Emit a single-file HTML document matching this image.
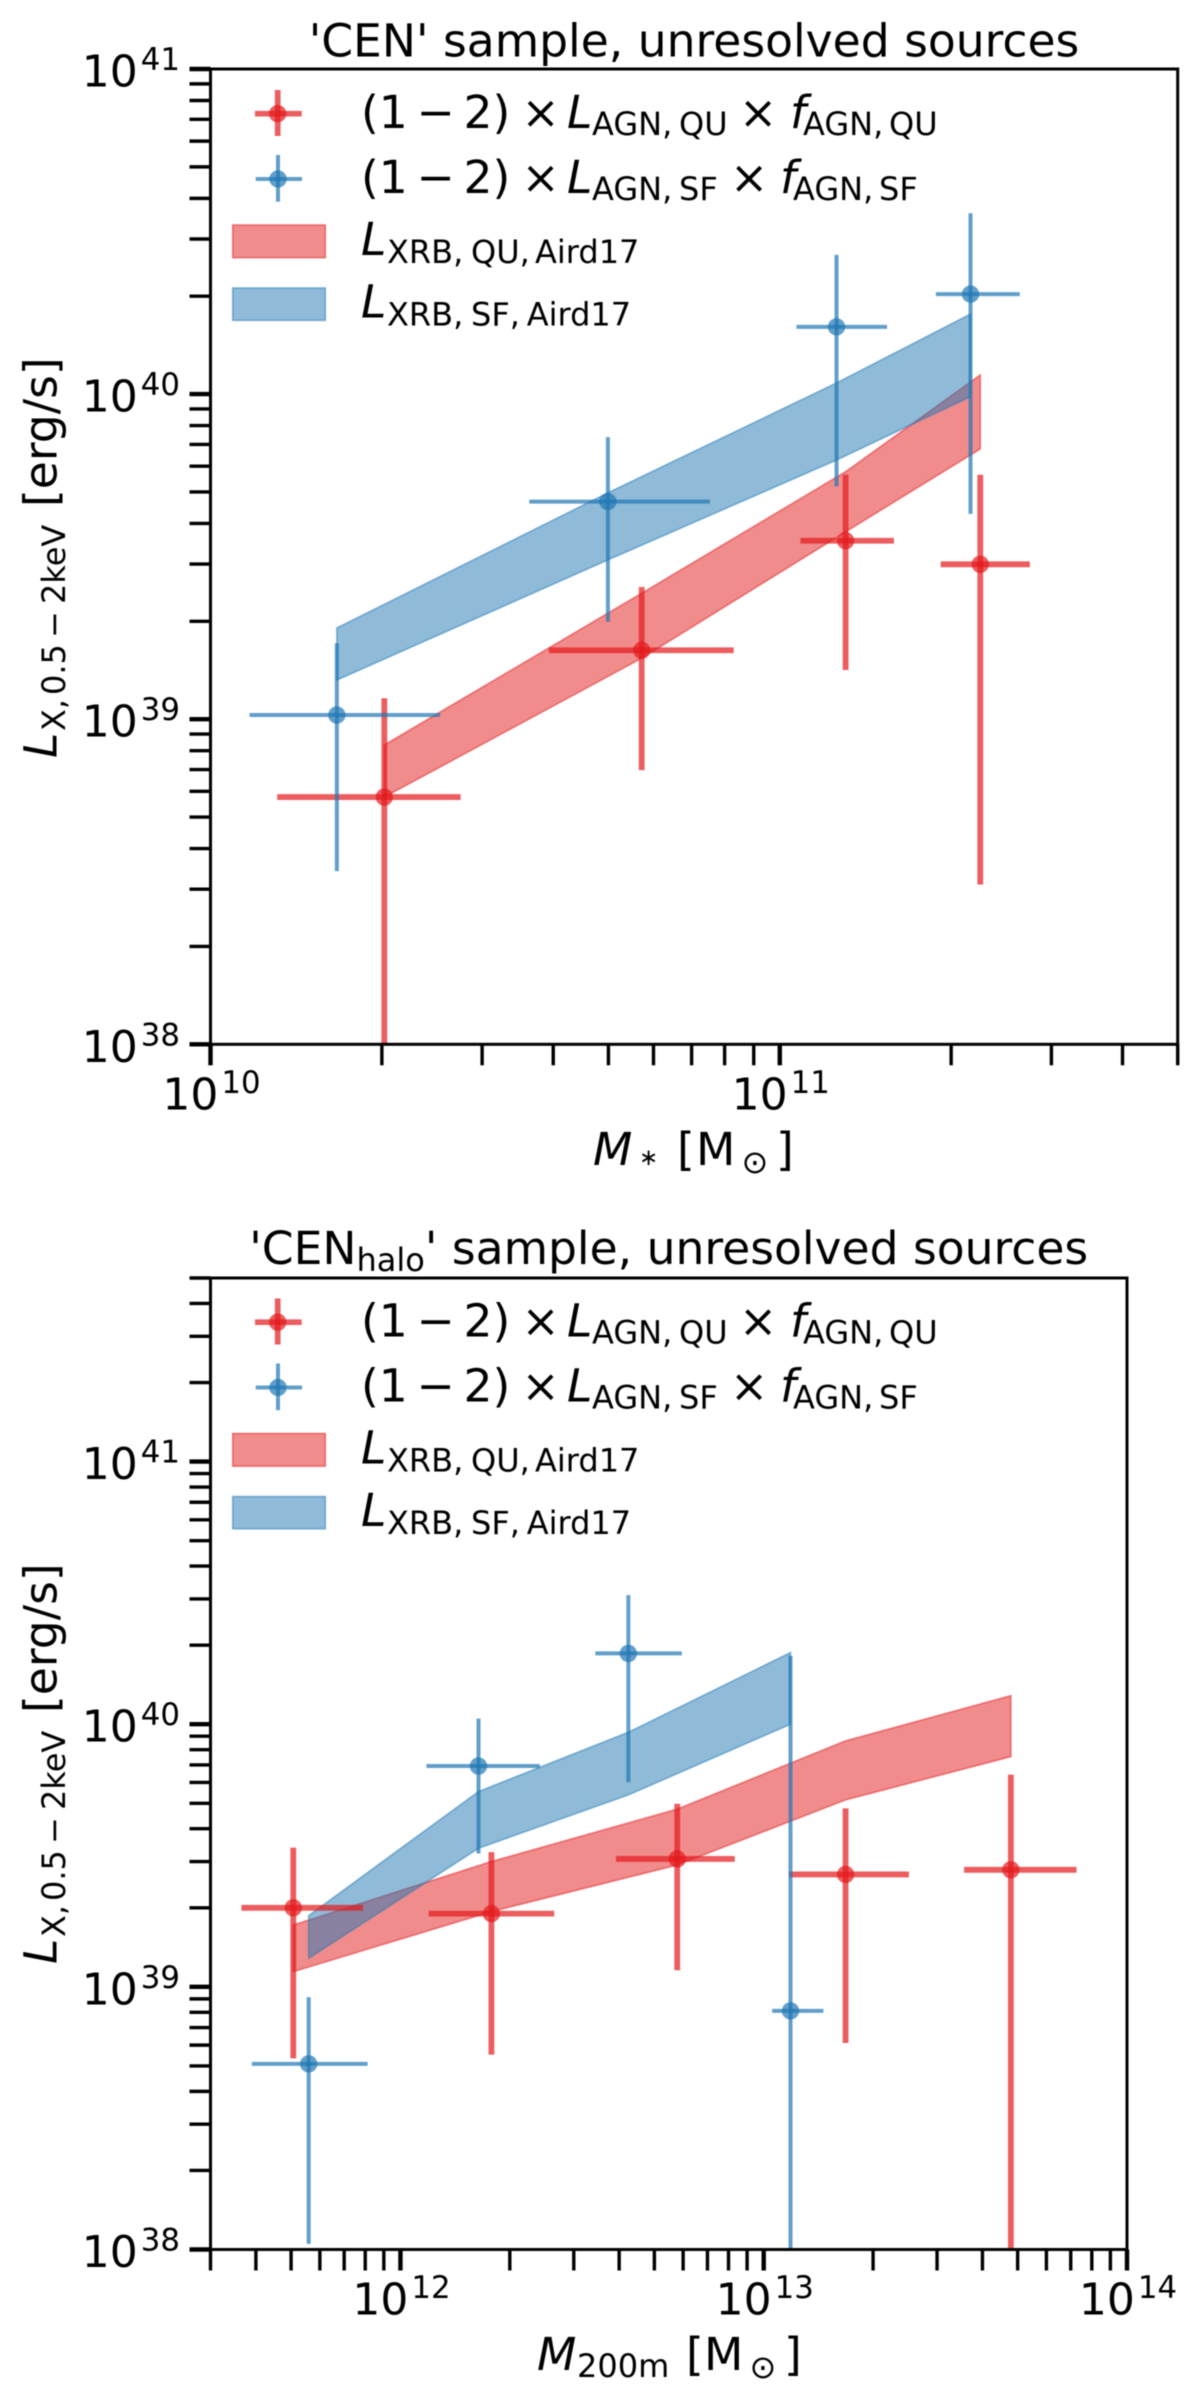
<!DOCTYPE html>
<html lang="en">
<head>
<meta charset="utf-8">
<title>Unresolved X-ray luminosity of CEN samples</title>
<style>
html,body{margin:0;padding:0;background:#fff;width:1200px;height:2405px;overflow:hidden}
svg{display:block;filter:blur(0.45px)}
text{font-family:"DejaVu Sans","Liberation Sans",sans-serif;fill:#000}
.m{font-size:45.6px}
.s{font-size:32px}
.t{font-size:44px}
.u{font-size:30.8px}
.a{font-size:23px}
.i{font-style:italic}
</style>
</head>
<body>
<svg id="figure" xmlns="http://www.w3.org/2000/svg" width="1200" height="2405" viewBox="0 0 1200 2405">
<defs>
<clipPath id="clip-cen"><rect x="210.5" y="69" width="967.2" height="975.3"/></clipPath>
<clipPath id="clip-halo"><rect x="210.5" y="1278" width="916.5" height="971.5"/></clipPath>
</defs>
<rect x="0" y="0" width="1200" height="2405" fill="#fff"/>

<g id="panel-cen"></g>
<g id="panel-halo"></g>

<!-- Panel 1 text -->
<text class="m" x="694" y="56.7" text-anchor="middle">'CEN' sample, unresolved sources</text>
<g>
<text class="m i" x="593" y="1165">M</text>
<text class="a" x="639" y="1165">∗</text>
<text class="m" x="677" y="1165">[</text>
<text class="m" x="696" y="1165">M</text>
<text class="s" x="741.5" y="1173">⊙</text>
<text class="m" x="776" y="1165">]</text>
</g>
<g>
<text class="m i" transform="translate(56.7,758) rotate(-90)">L</text>
<text class="s" transform="translate(65,731) rotate(-90)">X,</text>
<text class="s" transform="translate(65,695) rotate(-90)">0.5</text>
<text class="s" transform="translate(65,638) rotate(-90)">−</text>
<text class="s" transform="translate(65,604) rotate(-90)">2keV</text>
<text class="m" transform="translate(56.7,507) rotate(-90)">[erg/s]</text>
</g>

<!-- Panel 2 text -->
<text class="m" x="668.7" y="1264" text-anchor="middle">'CEN<tspan class="s" dy="7">halo</tspan><tspan dy="-7">' sample, unresolved sources</tspan></text>
<g>
<text class="m i" x="537" y="2370">M</text>
<text class="s" x="577" y="2377">200m</text>
<text class="m" x="686" y="2370">[</text>
<text class="m" x="704" y="2370">M</text>
<text class="s" x="749.5" y="2378">⊙</text>
<text class="m" x="784" y="2370">]</text>
</g>
<g transform="translate(0,1206)">
<text class="m i" transform="translate(56.7,758) rotate(-90)">L</text>
<text class="s" transform="translate(65,731) rotate(-90)">X,</text>
<text class="s" transform="translate(65,695) rotate(-90)">0.5</text>
<text class="s" transform="translate(65,638) rotate(-90)">−</text>
<text class="s" transform="translate(65,604) rotate(-90)">2keV</text>
<text class="m" transform="translate(56.7,507) rotate(-90)">[erg/s]</text>
</g>

<!-- Legends -->
<g id="legend-cen">
<g>
<line x1="255" x2="301.7" y1="113.7" y2="113.7" stroke="#e41a1c" stroke-width="5.7" opacity=".7"/>
<line x1="277.7" x2="277.7" y1="90" y2="136" stroke="#e41a1c" stroke-width="5.7" opacity=".7"/>
<circle cx="277.7" cy="113.7" r="8.7" fill="#e41a1c" opacity=".7"/>
<text class="m" x="361" y="128">(1</text>
<text class="m" x="416.5" y="128">−</text>
<text class="m" x="463.5" y="128">2)</text>
<text class="m" x="521.5" y="128">×</text>
<text class="m i" x="567" y="128">L</text>
<text class="s" x="592" y="135">AGN,</text>
<text class="s" x="679" y="135">QU</text>
<text class="m" x="739" y="128">×</text>
<text class="m i" x="790" y="128">f</text>
<text class="s" x="803" y="135">AGN,</text>
<text class="s" x="889" y="135">QU</text>
</g>
<g>
<line x1="255.7" x2="302" y1="179" y2="179" stroke="#1f77b4" stroke-width="4" opacity=".7"/>
<line x1="278" x2="278" y1="155" y2="201.7" stroke="#1f77b4" stroke-width="4" opacity=".7"/>
<circle cx="278" cy="179" r="8.7" fill="#1f77b4" opacity=".7"/>
<text class="m" x="361" y="193">(1</text>
<text class="m" x="416.5" y="193">−</text>
<text class="m" x="463.5" y="193">2)</text>
<text class="m" x="521.5" y="193">×</text>
<text class="m i" x="567" y="193">L</text>
<text class="s" x="592" y="200">AGN,</text>
<text class="s" x="679" y="200">SF</text>
<text class="m" x="730" y="193">×</text>
<text class="m i" x="780" y="193">f</text>
<text class="s" x="793" y="200">AGN,</text>
<text class="s" x="879" y="200">SF</text>
</g>
<g>
<rect x="232.7" y="225" width="92.6" height="32.7" fill="#e41a1c" fill-opacity=".5" stroke="#e41a1c" stroke-opacity=".5" stroke-width="1.6"/>
<text class="m i" x="361" y="255">L</text>
<text class="s" x="387" y="263">XRB,</text>
<text class="s" x="471" y="263">QU,</text>
<text class="s" x="535" y="263">Aird17</text>
</g>
<g>
<rect x="232.7" y="288" width="92.6" height="32.3" fill="#1f77b4" fill-opacity=".5" stroke="#1f77b4" stroke-opacity=".5" stroke-width="1.6"/>
<text class="m i" x="361" y="317.7">L</text>
<text class="s" x="387" y="325.7">XRB,</text>
<text class="s" x="471" y="325.7">SF,</text>
<text class="s" x="526.7" y="325.7">Aird17</text>
</g>
</g>
<g id="legend-halo" transform="translate(0,1208.5)">
<g>
<line x1="255" x2="301.7" y1="113.7" y2="113.7" stroke="#e41a1c" stroke-width="5.7" opacity=".7"/>
<line x1="277.7" x2="277.7" y1="90" y2="136" stroke="#e41a1c" stroke-width="5.7" opacity=".7"/>
<circle cx="277.7" cy="113.7" r="8.7" fill="#e41a1c" opacity=".7"/>
<text class="m" x="361" y="128">(1</text>
<text class="m" x="416.5" y="128">−</text>
<text class="m" x="463.5" y="128">2)</text>
<text class="m" x="521.5" y="128">×</text>
<text class="m i" x="567" y="128">L</text>
<text class="s" x="592" y="135">AGN,</text>
<text class="s" x="679" y="135">QU</text>
<text class="m" x="739" y="128">×</text>
<text class="m i" x="790" y="128">f</text>
<text class="s" x="803" y="135">AGN,</text>
<text class="s" x="889" y="135">QU</text>
</g>
<g>
<line x1="255.7" x2="302" y1="179" y2="179" stroke="#1f77b4" stroke-width="4" opacity=".7"/>
<line x1="278" x2="278" y1="155" y2="201.7" stroke="#1f77b4" stroke-width="4" opacity=".7"/>
<circle cx="278" cy="179" r="8.7" fill="#1f77b4" opacity=".7"/>
<text class="m" x="361" y="193">(1</text>
<text class="m" x="416.5" y="193">−</text>
<text class="m" x="463.5" y="193">2)</text>
<text class="m" x="521.5" y="193">×</text>
<text class="m i" x="567" y="193">L</text>
<text class="s" x="592" y="200">AGN,</text>
<text class="s" x="679" y="200">SF</text>
<text class="m" x="730" y="193">×</text>
<text class="m i" x="780" y="193">f</text>
<text class="s" x="793" y="200">AGN,</text>
<text class="s" x="879" y="200">SF</text>
</g>
<g>
<rect x="232.7" y="225" width="92.6" height="32.7" fill="#e41a1c" fill-opacity=".5" stroke="#e41a1c" stroke-opacity=".5" stroke-width="1.6"/>
<text class="m i" x="361" y="255">L</text>
<text class="s" x="387" y="263">XRB,</text>
<text class="s" x="471" y="263">QU,</text>
<text class="s" x="535" y="263">Aird17</text>
</g>
<g>
<rect x="232.7" y="288" width="92.6" height="32.3" fill="#1f77b4" fill-opacity=".5" stroke="#1f77b4" stroke-opacity=".5" stroke-width="1.6"/>
<text class="m i" x="361" y="317.7">L</text>
<text class="s" x="387" y="325.7">XRB,</text>
<text class="s" x="471" y="325.7">SF,</text>
<text class="s" x="526.7" y="325.7">Aird17</text>
</g>
</g>
</svg>
<script>
// ---- Panel 1: 'CEN' sample ----
const cenXTickExponents = [10, 11];
const cenYTickExponents = [38, 39, 40, 41];
const cenQuMass     = [2.02e10, 5.72e10, 1.305e11, 2.25e11];
const cenQuMassLow  = [1.31e10, 3.93e10, 1.087e11, 1.917e11];
const cenQuMassHigh = [2.75e10, 8.30e10, 1.587e11, 2.75e11];
const cenQuLum      = [5.76e38, 1.63e39, 3.54e39, 2.995e39];
const cenQuLumLow   = [5.0e37, 6.97e38, 1.417e39, 3.10e38];
const cenQuLumHigh  = [1.16e39, 2.55e39, 5.65e39, 5.65e39];
const cenSfMass     = [1.667e10, 4.99e10, 1.258e11, 2.163e11];
const cenSfMassLow  = [1.171e10, 3.63e10, 1.07e11, 1.88e11];
const cenSfMassHigh = [2.53e10, 7.54e10, 1.543e11, 2.64e11];
const cenSfLum      = [1.03e39, 4.67e39, 1.61e40, 2.03e40];
const cenSfLumLow   = [3.41e38, 1.994e39, 5.2e39, 4.28e39];
const cenSfLumHigh  = [1.713e39, 7.37e39, 2.68e40, 3.6e40];
const cenQuBandUpper = [8.33e38, 2.44e39, 5.77e39, 1.145e40];
const cenQuBandLower = [5.76e38, 1.54e39, 3.77e39, 6.78e39];
const cenSfBandUpper = [1.908e39, 4.97e39, 1.082e40, 1.763e40];
const cenSfBandLower = [1.32e39, 3.09e39, 6.27e39, 9.82e39];

// ---- Panel 2: 'CEN_halo' sample ----
const haloXTickExponents = [12, 13, 14];
const haloYTickExponents = [38, 39, 40, 41];
const haloQuMass     = [5.07e11, 1.78e12, 5.78e12, 1.68e13, 4.79e13];
const haloQuMassLow  = [3.65e11, 1.196e12, 3.92e12, 1.174e13, 3.56e13];
const haloQuMassHigh = [7.89e11, 2.65e12, 8.32e12, 2.51e13, 7.26e13];
const haloQuLum      = [2.0e39, 1.90e39, 3.07e39, 2.68e39, 2.79e39];
const haloQuLumLow   = [5.34e38, 5.52e38, 1.157e39, 6.11e38, 5.0e37];
const haloQuLumHigh  = [3.39e39, 3.26e39, 4.98e39, 4.78e39, 6.43e39];
const haloSfMass     = [5.59e11, 1.64e12, 4.24e12, 1.185e13];
const haloSfMassLow  = [3.9e11, 1.179e12, 3.44e12, 1.055e13];
const haloSfMassHigh = [8.12e11, 2.42e12, 5.95e12, 1.46e13];
const haloSfLum      = [5.09e38, 6.93e39, 1.86e40, 8.1e38];
const haloSfLumLow   = [1.05e38, 3.22e39, 6.01e39, 5.0e37];
const haloSfLumHigh  = [9.14e38, 1.05e40, 3.1e40, 1.82e40];
const haloQuBandUpper = [1.72e39, 3.0e39, 4.75e39, 8.64e39, 1.285e40];
const haloQuBandLower = [1.143e39, 1.934e39, 2.91e39, 5.15e39, 7.53e39];
const haloSfBandUpper = [1.867e39, 5.54e39, 9.32e39, 1.874e40];
const haloSfBandLower = [1.285e39, 3.37e39, 5.38e39, 1.0e40];

const RED = '#e41a1c';
const BLUE = '#1f77b4';
const SVGNS = 'http://www.w3.org/2000/svg';

function make(parent, tag, attrs) {
  const node = document.createElementNS(SVGNS, tag);
  for (const k in attrs) node.setAttribute(k, attrs[k]);
  parent.appendChild(node);
  return node;
}

function drawBand(parent, clip, sx, sy, xs, upper, lower, color, name) {
  const top = xs.map((x, i) => sx(x).toFixed(2) + ',' + sy(upper[i]).toFixed(2));
  const bottom = xs.map((x, i) => sx(x).toFixed(2) + ',' + sy(lower[i]).toFixed(2)).reverse();
  const band = make(parent, 'polygon', {
    points: top.concat(bottom).join(' '),
    fill: color, 'fill-opacity': 0.5, stroke: color, 'stroke-opacity': 0.5,
    'stroke-width': 1.6, 'clip-path': clip
  });
  
  
}

function drawPoints(parent, clip, sx, sy, xs, xLow, xHigh, ys, yLow, yHigh, color, width, name) {
  xs.forEach((x, i) => {
    const hBar = make(parent, 'line', {
      x1: sx(xLow[i]), x2: sx(xHigh[i]), y1: sy(ys[i]), y2: sy(ys[i]),
      stroke: color, 'stroke-width': width, opacity: 0.7, 'clip-path': clip
    });
    
    
    const vBar = make(parent, 'line', {
      x1: sx(x), x2: sx(x), y1: sy(yLow[i]), y2: sy(yHigh[i]),
      stroke: color, 'stroke-width': width, opacity: 0.7, 'clip-path': clip
    });
    
    
    const dot = make(parent, 'circle', {
      cx: sx(x), cy: sy(ys[i]), r: 8.7, fill: color, opacity: 0.7, 'clip-path': clip
    });
    
    
  });
}

function drawTick(parent, x1, y1, x2, y2, width, name) {
  const tick = make(parent, 'line', { x1: x1, y1: y1, x2: x2, y2: y2, stroke: '#000', 'stroke-width': width });
  
  
}

function drawPowerLabel(parent, x, y, anchor, exponent, name) {
  const label = make(parent, 'text', { x: x, y: y, 'text-anchor': anchor, class: 't' });
  
  
  label.appendChild(document.createTextNode('10'));
  const sup = make(label, 'tspan', { class: 'u', dx: 3, dy: -16.5 });
  sup.textContent = String(exponent);
}

function drawAxes(parent, box, sx, sy, xExp, yExp, xMin, xMax, yMin, yMax) {
  const frame = make(parent, 'rect', {
    x: box.left, y: box.top, width: box.right - box.left, height: box.bottom - box.top,
    fill: 'none', stroke: '#000', 'stroke-width': 3
  });
  
  

  for (let e = Math.floor(Math.log10(xMin)); e <= Math.ceil(Math.log10(xMax)); e++) {
    for (let m = 1; m < 10; m++) {
      const v = m * Math.pow(10, e);
      if (v < xMin * 0.999 || v > xMax * 1.001) continue;
      const major = m === 1;
      drawTick(parent, sx(v), box.bottom, sx(v), box.bottom + 21, major ? 4.4 : 3.4, major ? 'x-major-tick' : 'x-minor-tick');
    }
  }
  for (let e = Math.floor(Math.log10(yMin)); e <= Math.ceil(Math.log10(yMax)); e++) {
    for (let m = 1; m < 10; m++) {
      const v = m * Math.pow(10, e);
      if (v < yMin * 0.999 || v > yMax * 1.001) continue;
      const major = m === 1;
      drawTick(parent, box.left - 21, sy(v), box.left, sy(v), major ? 4.4 : 3.4, major ? 'y-major-tick' : 'y-minor-tick');
    }
  }
  xExp.forEach(e => {
    drawPowerLabel(parent, sx(Math.pow(10, e)) + 1, box.bottom + 65, 'middle', e, 'x-tick-label');
  });
  yExp.forEach(e => {
    drawPowerLabel(parent, 180, sy(Math.pow(10, e)) + 17.5, 'end', e, 'y-tick-label');
  });
}

function logScale(dMin, dMax, pMin, pMax) {
  const a = Math.log10(dMin), b = Math.log10(dMax);
  return v => pMin + (Math.log10(v) - a) / (b - a) * (pMax - pMin);
}

// Panel 1
(function () {
  const box = { left: 210.5, right: 1177.7, top: 69, bottom: 1044.3 };
  const xMin = 1e10, xMax = 5e11, yMin = 1e38, yMax = 1e41;
  const sx = logScale(xMin, xMax, box.left, box.right);
  const sy = logScale(yMin, yMax, box.bottom, box.top);
  const g = document.getElementById('panel-cen');
  const clip = 'url(#clip-cen)';
  drawBand(g, clip, sx, sy, cenQuMass, cenQuBandUpper, cenQuBandLower, RED, 'xrb-qu-band');
  drawBand(g, clip, sx, sy, cenSfMass, cenSfBandUpper, cenSfBandLower, BLUE, 'xrb-sf-band');
  drawPoints(g, clip, sx, sy, cenQuMass, cenQuMassLow, cenQuMassHigh, cenQuLum, cenQuLumLow, cenQuLumHigh, RED, 5.8, 'agn-qu');
  drawPoints(g, clip, sx, sy, cenSfMass, cenSfMassLow, cenSfMassHigh, cenSfLum, cenSfLumLow, cenSfLumHigh, BLUE, 4, 'agn-sf');
  drawAxes(g, box, sx, sy, cenXTickExponents, cenYTickExponents, xMin, xMax, yMin, yMax);
})();

// Panel 2
(function () {
  const box = { left: 210.5, right: 1127, top: 1278, bottom: 2249.5 };
  const xMin = 3e11, xMax = 1e14, yMin = 1e38, yMax = 5e41;
  const sx = logScale(xMin, xMax, box.left, box.right);
  const sy = logScale(yMin, yMax, box.bottom, box.top);
  const g = document.getElementById('panel-halo');
  const clip = 'url(#clip-halo)';
  drawBand(g, clip, sx, sy, haloQuMass, haloQuBandUpper, haloQuBandLower, RED, 'xrb-qu-band');
  drawBand(g, clip, sx, sy, haloSfMass, haloSfBandUpper, haloSfBandLower, BLUE, 'xrb-sf-band');
  drawPoints(g, clip, sx, sy, haloQuMass, haloQuMassLow, haloQuMassHigh, haloQuLum, haloQuLumLow, haloQuLumHigh, RED, 5.8, 'agn-qu');
  drawPoints(g, clip, sx, sy, haloSfMass, haloSfMassLow, haloSfMassHigh, haloSfLum, haloSfLumLow, haloSfLumHigh, BLUE, 4, 'agn-sf');
  drawAxes(g, box, sx, sy, haloXTickExponents, haloYTickExponents, xMin, xMax, yMin, yMax);
})();
</script>
</body>
</html>
